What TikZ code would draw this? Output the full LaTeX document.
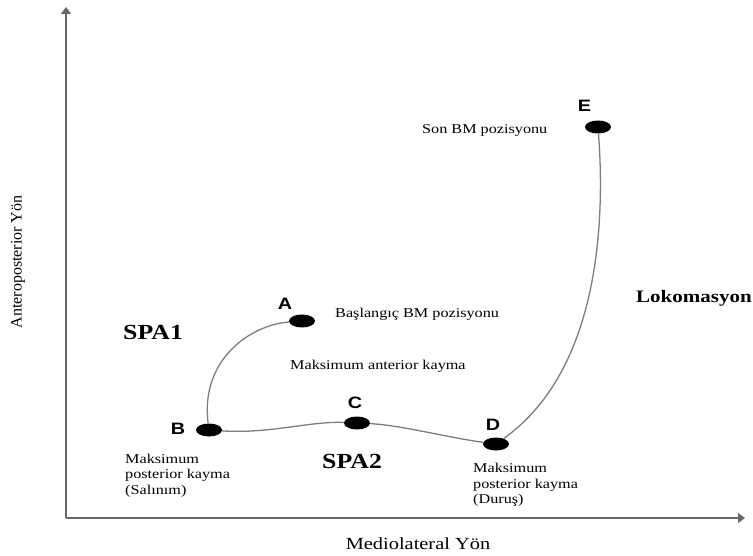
\documentclass[tikz,border=0pt]{standalone}
\usepackage{fontspec}
\setmainfont{Liberation Serif}[FakeStretch=1.2]
\setsansfont{Liberation Sans}[FakeStretch=1.2]
\newfontfamily\axisfont{Liberation Serif}
\usetikzlibrary{shapes.geometric,arrows.meta}
\definecolor{axisgray}{RGB}{105,105,105}
\definecolor{pathgray}{RGB}{125,125,125}
\begin{document}
\begin{tikzpicture}[x=1pt,y=-1pt,
  axis/.style={draw=axisgray,line width=2.6pt,-{Triangle[length=7pt,width=10pt]}},
  trace/.style={draw=pathgray,line width=1.3pt},
  dot/.style={ellipse,fill=black,minimum width=26pt,minimum height=13pt,inner sep=0pt},
  letter/.style={font=\sffamily\bfseries\fontsize{16.5}{18}\selectfont,anchor=base,inner sep=0pt},
  note/.style={font=\fontsize{13.5}{15.5}\selectfont,anchor=base west,inner sep=0pt,align=left},
  phase/.style={font=\bfseries\fontsize{21.5}{24}\selectfont,anchor=base west,inner sep=0pt}]
\useasboundingbox (0,0) rectangle (753,556);

% axes
\coordinate (O) at (66,518);
\coordinate (ytip) at (66,7);
\coordinate (xtip) at (745,518);
\draw[axis] (O) -- (ytip);
\draw[axis] (O) -- (xtip);
\node[font=\fontsize{17}{20}\selectfont,anchor=base,inner sep=0pt] (xlab) at (418,549) {Mediolateral Yön};
\node[font=\axisfont\fontsize{16}{18}\selectfont,rotate=90,inner sep=0pt] (ylab) at (18,262) {Anteroposterior Yön};

% centre-of-mass positions
\node[dot] (A) at (302,321) {};
\node[dot] (B) at (209,430) {};
\node[dot] (C) at (357,423) {};
\node[dot] (D) at (496,444) {};
\node[dot] (E) at (598,127) {};

% trajectory
\draw[trace] (A) .. controls (250,325) and (200,360) .. (B);
\draw[trace] (B) .. controls (270,434) and (310,421) .. (C);
\draw[trace] (C) .. controls (400,425) and (450,438) .. (D);
\draw[trace] (D) .. controls (600,370) and (605,220) .. (E);

% point letters
\node[letter] (lA) at (285,310) {A};
\node[letter] (lB) at (178,434) {B};
\node[letter] (lC) at (355,408) {C};
\node[letter] (lD) at (493,430) {D};
\node[letter] (lE) at (584.5,112) {E};

% descriptions (multi-line notes are placed by their last baseline)
\node[note] (tA) at (335,318) {Başlangıç BM pozisyonu};
\node[note] (tAnt) at (290,370) {Maksimum anterior kayma};
\node[note] (tE) at (422,134) {Son BM pozisyonu};
\node[note] (tB) at (125,494) {Maksimum\\posterior kayma\\(Salınım)};
\node[note] (tD) at (473,503.5) {Maksimum\\posterior kayma\\(Duruş)};

% phases
\node[phase] (spa1) at (123,340) {SPA1};
\node[phase] (spa2) at (322,468) {SPA2};
\node[font=\bfseries\fontsize{17.5}{20}\selectfont,anchor=base west,inner sep=0pt] (loko) at (636,303) {Lokomasyon};
\end{tikzpicture}
\end{document}
